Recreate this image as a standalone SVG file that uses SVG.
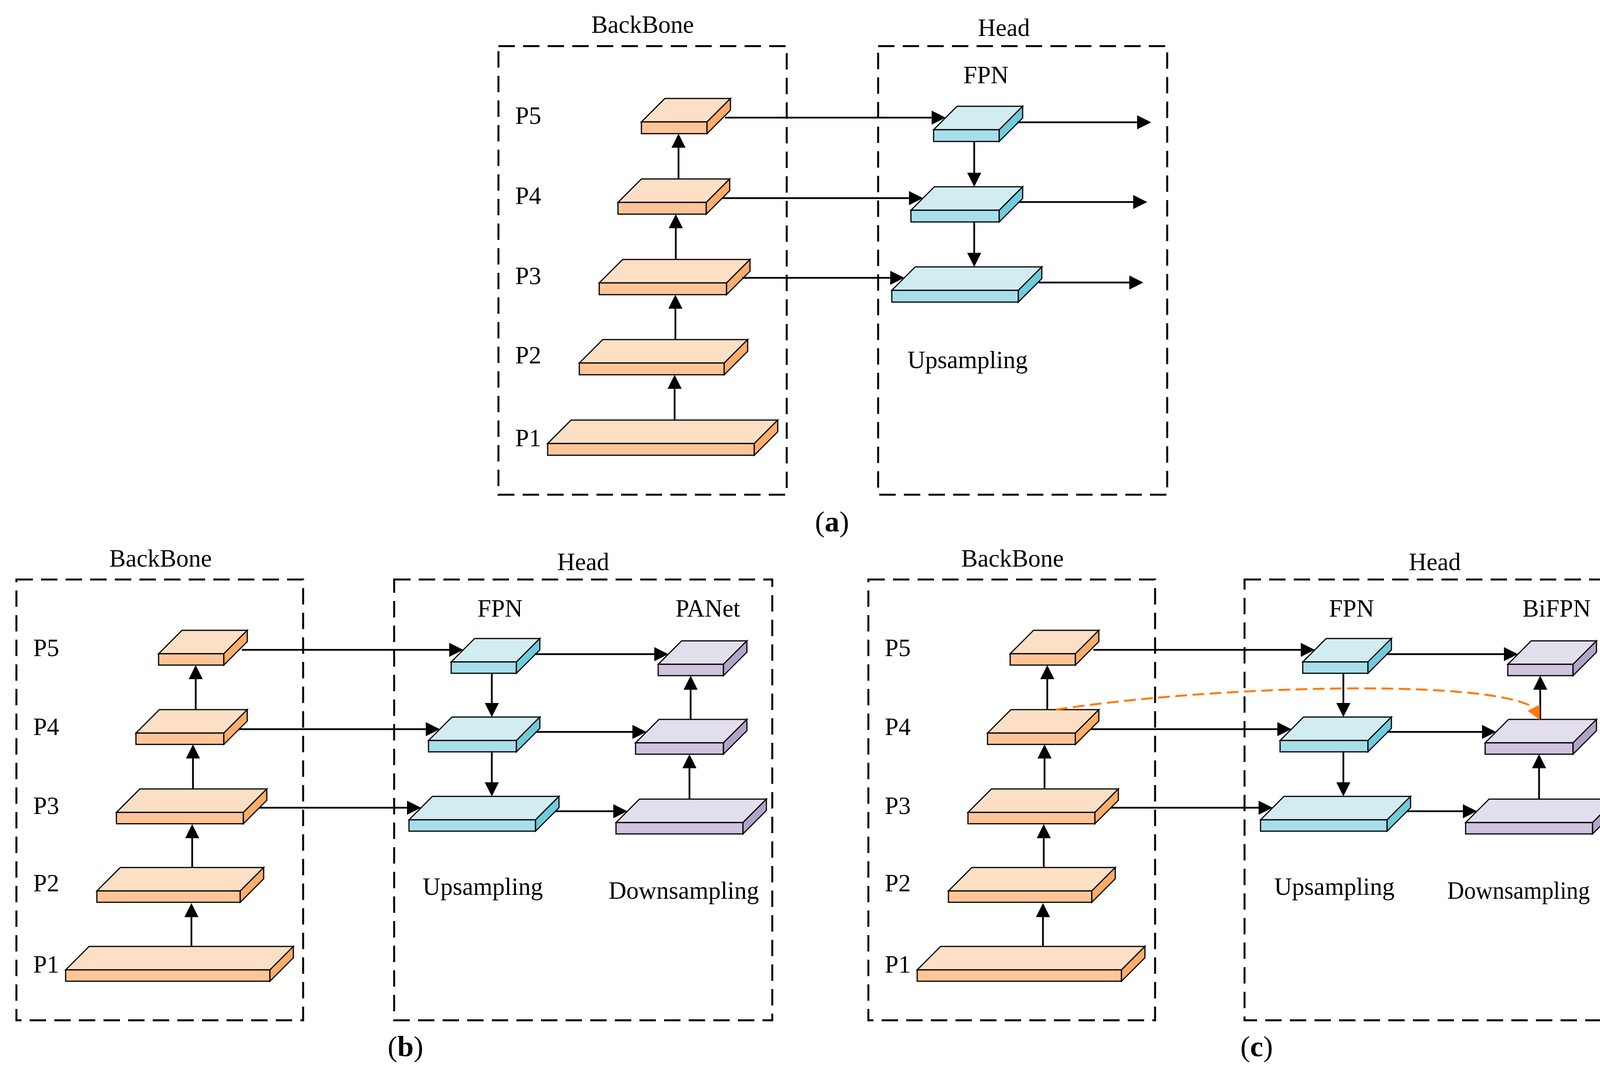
<svg xmlns="http://www.w3.org/2000/svg" width="4177" height="2751" viewBox="0 0 4177 2751">
<style>
.bg{fill:#ffffff}
.box{fill:none;stroke:#000;stroke-width:5;stroke-dasharray:42 21}
.t{font-family:"Liberation Serif","Times New Roman",serif;font-size:63px;fill:#000}
.lab{font-family:"Liberation Serif","Times New Roman",serif;font-size:75px;fill:#000}
.mid{text-anchor:middle}
.s{stroke:#000;stroke-width:3;stroke-linejoin:miter}
.ot{fill:#FDDFC5}.of{fill:#FFC599}.os{fill:#FFAD68}
.bt{fill:#D1EDF2}.bf{fill:#A6DFE9}.bs{fill:#6FCCDC}
.pt{fill:#E3DEEB}.pf{fill:#D0C3DD}.ps{fill:#B4A3C8}
.arr{fill:none;stroke:#000;stroke-width:4.5;marker-end:url(#ah)}
.cur{fill:none;stroke:#FF7A00;stroke-width:5;stroke-dasharray:30 14}
</style>
<defs>
<marker id="ah" markerUnits="userSpaceOnUse" markerWidth="36" markerHeight="36" viewBox="0 0 36 36" refX="16" refY="18" orient="auto">
<path d="M0,0 L36,18 L0,36 Z" fill="#000"/>
</marker>
</defs>
<rect class="bg" x="0" y="0" width="4177" height="2751"/>

<g id="a-frames">
<rect class="box" x="1276" y="118" width="738" height="1148"/>
<rect class="box" x="2248" y="118" width="740" height="1148"/>
<text class="t mid" x="1645" y="84">BackBone</text>
<text class="t mid" x="2570" y="92">Head</text>
<text class="t mid" x="2524" y="213">FPN</text>
<text class="t" x="1319" y="317">P5</text>
<text class="t" x="1319" y="522">P4</text>
<text class="t" x="1319" y="727">P3</text>
<text class="t" x="1319" y="930">P2</text>
<text class="t" x="1319" y="1142">P1</text>
<text class="t" x="2323" y="942">Upsampling</text>
<text class="lab mid" x="2130" y="1360">(<tspan font-weight="bold">a</tspan>)</text>
</g>
<g id="a-P5"><path class="s ot" d="M1642,312 L1702,252 L1870,252 L1810,312 Z"/><rect class="s of" x="1642" y="312" width="168" height="30"/><path class="s os" d="M1810,312 L1870,252 L1870,282 L1810,342 Z"/></g>
<g id="a-P4"><path class="s ot" d="M1582,518 L1642,458 L1868,458 L1808,518 Z"/><rect class="s of" x="1582" y="518" width="226" height="30"/><path class="s os" d="M1808,518 L1868,458 L1868,488 L1808,548 Z"/></g>
<g id="a-P3"><path class="s ot" d="M1534,724 L1594,664 L1920,664 L1860,724 Z"/><rect class="s of" x="1534" y="724" width="326" height="30"/><path class="s os" d="M1860,724 L1920,664 L1920,694 L1860,754 Z"/></g>
<g id="a-P2"><path class="s ot" d="M1483,929 L1543,869 L1914,869 L1854,929 Z"/><rect class="s of" x="1483" y="929" width="371" height="30"/><path class="s os" d="M1854,929 L1914,869 L1914,899 L1854,959 Z"/></g>
<g id="a-P1"><path class="s ot" d="M1402,1135 L1462,1075 L1991,1075 L1931,1135 Z"/><rect class="s of" x="1402" y="1135" width="529" height="30"/><path class="s os" d="M1931,1135 L1991,1075 L1991,1105 L1931,1165 Z"/></g>
<g id="a-F1"><path class="s bt" d="M2390,332 L2450,272 L2618,272 L2558,332 Z"/><rect class="s bf" x="2390" y="332" width="168" height="30"/><path class="s bs" d="M2558,332 L2618,272 L2618,302 L2558,362 Z"/></g>
<g id="a-F2"><path class="s bt" d="M2332,538 L2392,478 L2618,478 L2558,538 Z"/><rect class="s bf" x="2332" y="538" width="226" height="30"/><path class="s bs" d="M2558,538 L2618,478 L2618,508 L2558,568 Z"/></g>
<g id="a-F3"><path class="s bt" d="M2283,743 L2343,683 L2667,683 L2607,743 Z"/><rect class="s bf" x="2283" y="743" width="324" height="30"/><path class="s bs" d="M2607,743 L2667,683 L2667,713 L2607,773 Z"/></g>

<g id="b-frames">
<rect class="box" x="42" y="1483" width="734" height="1128"/>
<rect class="box" x="1009" y="1483" width="968" height="1128"/>
<text class="t mid" x="411" y="1450">BackBone</text>
<text class="t mid" x="1493" y="1459">Head</text>
<text class="t mid" x="1280" y="1578">FPN</text>
<text class="t mid" x="1812" y="1578">PANet</text>
<text class="t" x="85" y="1679">P5</text>
<text class="t" x="85" y="1881">P4</text>
<text class="t" x="85" y="2083">P3</text>
<text class="t" x="85" y="2281">P2</text>
<text class="t" x="85" y="2489">P1</text>
<text class="t" x="1082" y="2290">Upsampling</text>
<text class="t" x="1558" y="2300">Downsampling</text>
<text class="lab mid" x="1038" y="2703">(<tspan font-weight="bold">b</tspan>)</text>
</g>
<g id="b-P5"><path class="s ot" d="M406,1673 L466,1613 L633,1613 L573,1673 Z"/><rect class="s of" x="406" y="1673" width="167" height="29"/><path class="s os" d="M573,1673 L633,1613 L633,1642 L573,1702 Z"/></g>
<g id="b-P4"><path class="s ot" d="M348,1876 L408,1816 L633,1816 L573,1876 Z"/><rect class="s of" x="348" y="1876" width="225" height="29"/><path class="s os" d="M573,1876 L633,1816 L633,1845 L573,1905 Z"/></g>
<g id="b-P3"><path class="s ot" d="M298,2079 L358,2019 L683,2019 L623,2079 Z"/><rect class="s of" x="298" y="2079" width="325" height="29"/><path class="s os" d="M623,2079 L683,2019 L683,2048 L623,2108 Z"/></g>
<g id="b-P2"><path class="s ot" d="M248,2280 L308,2220 L675,2220 L615,2280 Z"/><rect class="s of" x="248" y="2280" width="367" height="29"/><path class="s os" d="M615,2280 L675,2220 L675,2249 L615,2309 Z"/></g>
<g id="b-P1"><path class="s ot" d="M168,2482 L228,2422 L751,2422 L691,2482 Z"/><rect class="s of" x="168" y="2482" width="523" height="29"/><path class="s os" d="M691,2482 L751,2422 L751,2451 L691,2511 Z"/></g>
<g id="b-F1"><path class="s bt" d="M1155,1694 L1215,1634 L1382,1634 L1322,1694 Z"/><rect class="s bf" x="1155" y="1694" width="167" height="29"/><path class="s bs" d="M1322,1694 L1382,1634 L1382,1663 L1322,1723 Z"/></g>
<g id="b-F2"><path class="s bt" d="M1097,1895 L1157,1835 L1382,1835 L1322,1895 Z"/><rect class="s bf" x="1097" y="1895" width="225" height="29"/><path class="s bs" d="M1322,1895 L1382,1835 L1382,1864 L1322,1924 Z"/></g>
<g id="b-F3"><path class="s bt" d="M1047,2098 L1107,2038 L1431,2038 L1371,2098 Z"/><rect class="s bf" x="1047" y="2098" width="324" height="29"/><path class="s bs" d="M1371,2098 L1431,2038 L1431,2067 L1371,2127 Z"/></g>
<g id="b-N1"><path class="s pt" d="M1685,1700 L1745,1640 L1912,1640 L1852,1700 Z"/><rect class="s pf" x="1685" y="1700" width="167" height="29"/><path class="s ps" d="M1852,1700 L1912,1640 L1912,1669 L1852,1729 Z"/></g>
<g id="b-N2"><path class="s pt" d="M1627,1901 L1687,1841 L1912,1841 L1852,1901 Z"/><rect class="s pf" x="1627" y="1901" width="225" height="29"/><path class="s ps" d="M1852,1901 L1912,1841 L1912,1870 L1852,1930 Z"/></g>
<g id="b-N3"><path class="s pt" d="M1577,2105 L1637,2045 L1962,2045 L1902,2105 Z"/><rect class="s pf" x="1577" y="2105" width="325" height="29"/><path class="s ps" d="M1902,2105 L1962,2045 L1962,2074 L1902,2134 Z"/></g>

<g id="c-frames">
<rect class="box" x="2223" y="1483" width="734" height="1128"/>
<rect class="box" x="3186" y="1483" width="964" height="1128"/>
<text class="t mid" x="2592" y="1450">BackBone</text>
<text class="t mid" x="3673" y="1459">Head</text>
<text class="t mid" x="3460" y="1578">FPN</text>
<text class="t mid" x="3985" y="1578">BiFPN</text>
<text class="t" x="2265" y="1679">P5</text>
<text class="t" x="2265" y="1881">P4</text>
<text class="t" x="2265" y="2083">P3</text>
<text class="t" x="2265" y="2281">P2</text>
<text class="t" x="2265" y="2489">P1</text>
<text class="t" x="3262" y="2290">Upsampling</text>
<text class="t" x="3705" y="2300" textLength="365" lengthAdjust="spacingAndGlyphs">Downsampling</text>
<text class="lab mid" x="3217" y="2703">(<tspan font-weight="bold">c</tspan>)</text>
</g>
<g id="c-P5" transform="translate(2180,0)"><path class="s ot" d="M406,1673 L466,1613 L633,1613 L573,1673 Z"/><rect class="s of" x="406" y="1673" width="167" height="29"/><path class="s os" d="M573,1673 L633,1613 L633,1642 L573,1702 Z"/></g>
<g id="c-P4" transform="translate(2180,0)"><path class="s ot" d="M348,1876 L408,1816 L633,1816 L573,1876 Z"/><rect class="s of" x="348" y="1876" width="225" height="29"/><path class="s os" d="M573,1876 L633,1816 L633,1845 L573,1905 Z"/></g>
<g id="c-P3" transform="translate(2180,0)"><path class="s ot" d="M298,2079 L358,2019 L683,2019 L623,2079 Z"/><rect class="s of" x="298" y="2079" width="325" height="29"/><path class="s os" d="M623,2079 L683,2019 L683,2048 L623,2108 Z"/></g>
<g id="c-P2" transform="translate(2180,0)"><path class="s ot" d="M248,2280 L308,2220 L675,2220 L615,2280 Z"/><rect class="s of" x="248" y="2280" width="367" height="29"/><path class="s os" d="M615,2280 L675,2220 L675,2249 L615,2309 Z"/></g>
<g id="c-P1" transform="translate(2180,0)"><path class="s ot" d="M168,2482 L228,2422 L751,2422 L691,2482 Z"/><rect class="s of" x="168" y="2482" width="523" height="29"/><path class="s os" d="M691,2482 L751,2422 L751,2451 L691,2511 Z"/></g>
<g id="c-F1" transform="translate(2180,0)"><path class="s bt" d="M1155,1694 L1215,1634 L1382,1634 L1322,1694 Z"/><rect class="s bf" x="1155" y="1694" width="167" height="29"/><path class="s bs" d="M1322,1694 L1382,1634 L1382,1663 L1322,1723 Z"/></g>
<g id="c-F2" transform="translate(2180,0)"><path class="s bt" d="M1097,1895 L1157,1835 L1382,1835 L1322,1895 Z"/><rect class="s bf" x="1097" y="1895" width="225" height="29"/><path class="s bs" d="M1322,1895 L1382,1835 L1382,1864 L1322,1924 Z"/></g>
<g id="c-F3" transform="translate(2180,0)"><path class="s bt" d="M1047,2098 L1107,2038 L1431,2038 L1371,2098 Z"/><rect class="s bf" x="1047" y="2098" width="324" height="29"/><path class="s bs" d="M1371,2098 L1431,2038 L1431,2067 L1371,2127 Z"/></g>
<g id="c-N1" transform="translate(2175,0)"><path class="s pt" d="M1685,1700 L1745,1640 L1912,1640 L1852,1700 Z"/><rect class="s pf" x="1685" y="1700" width="167" height="29"/><path class="s ps" d="M1852,1700 L1912,1640 L1912,1669 L1852,1729 Z"/></g>
<g id="c-N2" transform="translate(2175,0)"><path class="s pt" d="M1627,1901 L1687,1841 L1912,1841 L1852,1901 Z"/><rect class="s pf" x="1627" y="1901" width="225" height="29"/><path class="s ps" d="M1852,1901 L1912,1841 L1912,1870 L1852,1930 Z"/></g>
<g id="c-N3" transform="translate(2175,0)"><path class="s pt" d="M1577,2105 L1637,2045 L1962,2045 L1902,2105 Z"/><rect class="s pf" x="1577" y="2105" width="325" height="29"/><path class="s ps" d="M1902,2105 L1962,2045 L1962,2074 L1902,2134 Z"/></g>

<g id="connectors">
<path class="arr" d="M1737,458 V362"/>
<path class="arr" d="M1730,664 V568"/>
<path class="arr" d="M1729,869 V774"/>
<path class="arr" d="M1727,1075 V979"/>
<path class="arr" d="M1856,301 H2401"/>
<path class="arr" d="M1850,507 H2343"/>
<path class="arr" d="M1900,711 H2295"/>
<path class="arr" d="M2494,362 V458"/>
<path class="arr" d="M2494,568 V663"/>
<path class="arr" d="M2605,313 H2927"/>
<path class="arr" d="M2608,517 H2917"/>
<path class="arr" d="M2659,723 H2907"/>
<path class="arr" d="M501,1816 V1722"/>
<path class="arr" d="M494,2019 V1925"/>
<path class="arr" d="M492,2220 V2129"/>
<path class="arr" d="M490,2422 V2331"/>
<path class="arr" d="M619,1663 H1166"/>
<path class="arr" d="M612,1866 H1106"/>
<path class="arr" d="M663,2067 H1058"/>
<path class="arr" d="M1259,1723 V1815"/>
<path class="arr" d="M1259,1924 V2018"/>
<path class="arr" d="M1369,1674 H1691"/>
<path class="arr" d="M1371,1873 H1635"/>
<path class="arr" d="M1421,2076 H1586"/>
<path class="arr" d="M1768,1841 V1749"/>
<path class="arr" d="M1765,2045 V1950"/>
<path class="arr" d="M2681,1816 V1722"/>
<path class="arr" d="M2674,2019 V1925"/>
<path class="arr" d="M2672,2220 V2129"/>
<path class="arr" d="M2670,2422 V2331"/>
<path class="arr" d="M2799,1663 H3346"/>
<path class="arr" d="M2792,1866 H3286"/>
<path class="arr" d="M2843,2067 H3238"/>
<path class="arr" d="M3439,1723 V1815"/>
<path class="arr" d="M3439,1924 V2018"/>
<path class="arr" d="M3549,1674 H3866"/>
<path class="arr" d="M3551,1873 H3810"/>
<path class="arr" d="M3601,2076 H3761"/>
<path class="arr" d="M3943,1841 V1749"/>
<path class="arr" d="M3940,2045 V1950"/>
<path class="cur" d="M2703,1816 C3100,1755 3800,1735 3925,1810"/>
<polygon points="3942,1842 3911,1819 3942,1803" fill="#FF7A00"/>
</g>
</svg>
